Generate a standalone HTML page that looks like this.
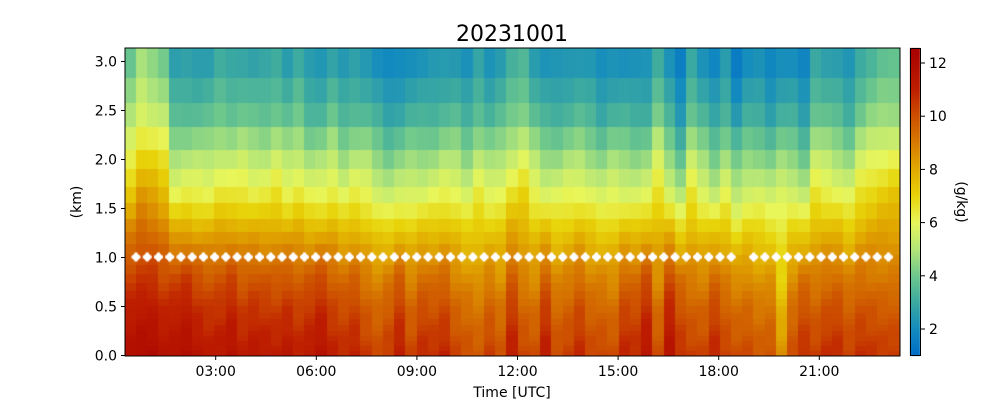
<!DOCTYPE html>
<html><head><meta charset="utf-8"><style>
body{margin:0;background:#fff;width:1000px;height:400px;overflow:hidden;font-family:"Liberation Sans","DejaVu Sans",sans-serif}
svg text{font-family:"DejaVu Sans","Liberation Sans",sans-serif}
canvas{position:absolute;left:0;top:0}
#s{position:absolute;left:0;top:0}
</style></head><body>
<canvas id="c" width="1000" height="400"></canvas>
<svg id="s" width="1000" height="400"></svg>
<script>
var ctx=document.getElementById('c').getContext('2d');
var L=125,R=900,T=48,B=356;
var stops=[[1,[0,110,200]],[2,[20,140,190]],[3,[60,170,160]],[4,[110,200,140]],[5,[180,230,120]],[6,[232,246,90]],[7,[232,212,10]],[8,[225,170,0]],[9,[215,122,0]],[10,[205,80,0]],[11,[190,30,0]],[12.6,[168,0,0]]];
function col(v){if(v<=stops[0][0])return stops[0][1];for(var i=1;i<stops.length;i++){if(v<=stops[i][0]){var a=stops[i-1],b=stops[i],t=(v-a[0])/(b[0]-a[0]);return [0,1,2].map(function(k){return Math.round(a[1][k]+(b[1][k]-a[1][k])*t)})}}return stops[stops.length-1][1];}
function prof(h){var p=[[0,10.5],[0.5,9.7],[1,8.5],[1.25,7.7],[1.5,6.8],[1.75,6],[2,5.2],[2.5,3.6],[3.2,2.4]];for(var i=1;i<p.length;i++){if(h<=p[i][0]){var t=(h-p[i-1][0])/(p[i][0]-p[i-1][0]);return p[i-1][1]+(p[i][1]-p[i-1][1])*t}}return 2.4;}
var up=[1.0,1.8,1.6,1.3,-0.2,-0.1,-0.1,-0.1,0.2,0.1,0.2,0.0,0.0,0.3,-0.1,0.2,-0.3,-0.3,0.1,-0.4,-0.1,-0.2,-0.6,-0.9,-0.7,-0.5,-0.5,-0.4,-0.2,-0.2,-0.6,0.0,-0.4,-0.2,0.3,0.6,-0.1,-0.5,-0.5,-0.3,-0.2,-0.4,-0.7,-0.4,-0.5,-0.6,-0.5,0.4,-0.5,-1.2,0.2,-0.4,-0.9,-0.3,-1.1,-0.6,-0.6,-0.9,-0.5,-0.6,-1.0,0.2,0.0,-0.2,-0.5,0.3,0.6,0.8,0.9];
var lo=[1.2,1.4,1.4,1.0,1.1,1.3,0.9,0.7,0.8,1.1,0.6,0.8,0.7,0.6,0.8,0.5,0.7,1.0,0.5,0.3,0.5,0.0,-0.3,0.0,0.6,-0.2,0.3,0.2,0.4,-0.2,-0.4,-0.6,-0.1,-0.5,0.6,-0.2,-0.4,0.6,-0.3,-0.1,0.3,-0.2,-0.2,-0.4,0.4,0.3,0.9,-0.4,1.0,0.2,-0.1,-0.2,0.4,-0.1,-0.4,-0.3,-0.6,-0.5,-1.8,-0.4,0.2,-0.1,0.2,0.3,-0.1,0.2,0.1,0.0,0.0];
var N=69,cw=(R-L)/N;
var bounds=[48,78,103,127,150,169,187,203,219,232,244,255,265,274,283,291,299,306,313,319,325,331,336,341,346,351,356];
function y2h(y){return (356-y)/98;}
for(var i=0;i<N;i++){
 for(var r=0;r<bounds.length-1;r++){
  var ym=(bounds[r]+bounds[r+1])/2,h=y2h(ym);
  var w=Math.min(1,Math.max(0,(h-0.8)/0.8));
  var v=prof(h)+up[i]*w*1.1+lo[i]*(1-w)*1.1+Math.sin(i*1.7+r*0.9)*0.12;
  var c=col(v);ctx.fillStyle='rgb('+c+')';
  ctx.fillRect(Math.floor(L+i*cw),bounds[r],Math.ceil(cw)+1,bounds[r+1]-bounds[r]);
 }
}
ctx.fillStyle='#fff';
for(var x=136;x<=898;x+=11.23){if(x>738&&x<752)continue;ctx.beginPath();ctx.arc(x,257,3.5,0,6.3);ctx.fill();ctx.fillRect(x-4.5,255.5,9,3);ctx.fillRect(x-1.5,252.5,3,9);}
ctx.fillStyle='#fff';ctx.fillRect(900,40,100,330);ctx.fillRect(0,0,L,400);
var g=ctx.createLinearGradient(0,356,0,48);
for(var k=0;k<stops.length;k++){var v=stops[k][0];g.addColorStop(Math.min(1,(v-0.98)/(12.56-0.98)),'rgb('+stops[k][1]+')');}
ctx.fillStyle=g;ctx.fillRect(910,48,10,308);
var s='';
s+='<rect x="125" y="48" width="775" height="308" fill="none" stroke="#000" stroke-width="1"/>';
s+='<rect x="910.5" y="48.5" width="10" height="307" fill="none" stroke="#000" stroke-width="1"/>';
var yl=['0.0','0.5','1.0','1.5','2.0','2.5','3.0'];
for(var k=0;k<7;k++){var y=355.5-k*49;s+='<line x1="121" x2="125" y1="'+y+'" y2="'+y+'" stroke="#000"/><text x="117" y="'+(y+5)+'" font-size="14" text-anchor="end">'+yl[k]+'</text>';}
var xl=['03:00','06:00','09:00','12:00','15:00','18:00','21:00'];
for(var k=0;k<7;k++){var x=215.7+k*100.6;s+='<line x1="'+x+'" x2="'+x+'" y1="356" y2="360" stroke="#000"/><text x="'+x+'" y="376" font-size="14" text-anchor="middle">'+xl[k]+'</text>';}
var cl=[2,4,6,8,10,12];
for(var k=0;k<6;k++){var y=329-(cl[k]-2)*26.6;s+='<line x1="921" x2="925" y1="'+y+'" y2="'+y+'" stroke="#000"/><text x="929" y="'+(y+5)+'" font-size="14">'+cl[k]+'</text>';}
s+='<text x="512" y="41" font-size="22" text-anchor="middle">20231001</text>';
s+='<text x="512" y="397" font-size="14" text-anchor="middle">Time [UTC]</text>';
s+='<text transform="translate(81,202) rotate(-90)" font-size="14" text-anchor="middle">(km)</text>';
s+='<text transform="translate(957,202) rotate(90)" font-size="14" text-anchor="middle">(g/kg)</text>';
document.getElementById('s').innerHTML=s;
</script>
</body></html>
